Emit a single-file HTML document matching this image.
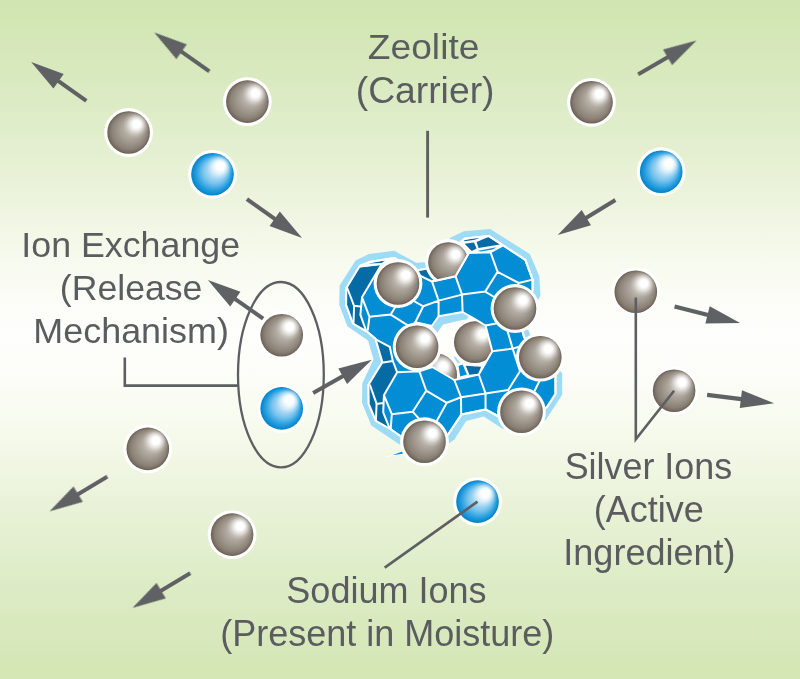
<!DOCTYPE html>
<html>
<head>
<meta charset="utf-8">
<title>Zeolite Ion Exchange</title>
<style>
html,body{margin:0;padding:0;}
body{width:800px;height:679px;overflow:hidden;background:#fdfef8;}
svg{display:block;}
text{font-family:"Liberation Sans",sans-serif;font-size:36px;fill:#5b5c5f;}
</style>
</head>
<body>
<svg width="800" height="679" viewBox="0 0 800 679">
<defs>
<linearGradient id="bg" x1="0" y1="0" x2="0" y2="1">
<stop offset="0" stop-color="#d0e5b0"/>
<stop offset="0.147" stop-color="#dcebc4"/>
<stop offset="0.265" stop-color="#e9f2d8"/>
<stop offset="0.383" stop-color="#f7faee"/>
<stop offset="0.45" stop-color="#fcfdf8"/>
<stop offset="0.5" stop-color="#fefefc"/>
<stop offset="0.55" stop-color="#fcfdf8"/>
<stop offset="0.617" stop-color="#f8fbef"/>
<stop offset="0.735" stop-color="#eaf3da"/>
<stop offset="0.853" stop-color="#deecc7"/>
<stop offset="1" stop-color="#d3e6b3"/>
</linearGradient>
<radialGradient id="ag" cx="0.5" cy="0.5" r="0.5" fx="0.66" fy="0.33">
<stop offset="0" stop-color="#dcd8d3"/>
<stop offset="0.28" stop-color="#c0bab2"/>
<stop offset="0.58" stop-color="#a39b91"/>
<stop offset="0.84" stop-color="#8b8176"/>
<stop offset="0.95" stop-color="#776c61"/>
<stop offset="1" stop-color="#675b50"/>
</radialGradient>
<radialGradient id="na" cx="0.5" cy="0.5" r="0.5" fx="0.66" fy="0.33">
<stop offset="0" stop-color="#e4f3fc"/>
<stop offset="0.30" stop-color="#bfe2f6"/>
<stop offset="0.58" stop-color="#78c3ed"/>
<stop offset="0.82" stop-color="#279ede"/>
<stop offset="0.95" stop-color="#0b8ad0"/>
<stop offset="1" stop-color="#077fc3"/>
</radialGradient>
<radialGradient id="hl" cx="0.69" cy="0.30" r="0.32">
<stop offset="0" stop-color="#fff" stop-opacity="1"/>
<stop offset="0.27" stop-color="#fff" stop-opacity="1"/>
<stop offset="0.5" stop-color="#fff" stop-opacity="0.6"/>
<stop offset="0.75" stop-color="#fff" stop-opacity="0.18"/>
<stop offset="1" stop-color="#fff" stop-opacity="0"/>
</radialGradient>
<g id="arw"><path d="M1 0L-32.5 -8.9L-32.5 8.9Z" fill="#606164"/><path d="M-32 0H-66.5" stroke="#606164" stroke-width="4.1" fill="none"/></g>

<clipPath id="cS"><polygon points="346.1,304.8 346.4,287.9 359.8,265.9 369.2,262.1 394.8,258 400,262 417,270.5 426,268.7 436,262 459.5,243 464.8,238.6 488.8,235.9 525.3,259.9 532.6,279.6 532.6,290 530,300 525,320 522.5,331.5 524.2,337.5 535,345 555.4,372 555.5,394 546.8,407.3 530,420 510,425 497.7,416 485.5,409.4 461.4,414.6 448.2,434.3 430,445 400.7,436.2 390.4,429 375.9,420.8 368.7,403.8 368.5,384.8 382.4,362.2 375.5,338.8 366.6,331.3 353,323.5"/></clipPath>
<clipPath id="cHole"><polygon points="415.3,322.3 431.8,326 438.6,316.3 462.6,312 475,319.2 485.5,325.5 492.3,351.2 478.8,374.5 454.3,380 432.3,367 419.3,371.2 405,360 403,335"/></clipPath>
<clipPath id="cB2"><polygon points="400,289.3 455.5,276.2 468.6,252.6 480,232 480,215 400,215"/></clipPath>
</defs>
<rect width="800" height="679" fill="url(#bg)"/>
<g fill="none" stroke="#5e5f62" stroke-width="2.6">
<path d="M427.6 130.8V217.6" stroke-width="2.9"/>
<path d="M124.8 357.6V385.6H238"/>
<ellipse cx="280.9" cy="374.7" rx="42.9" ry="92.7" stroke-width="2.3"/>
</g>
<g text-anchor="middle" opacity="0.999">
<text transform="translate(423.6 59) scale(1.033 1)">Zeolite</text>
<text transform="translate(425.1 103) scale(1.036 1)">(Carrier)</text>
<text transform="translate(130.7 256.8) scale(0.994 1)">Ion Exchange</text>
<text transform="translate(131.1 300) scale(0.99 1)">(Release</text>
<text transform="translate(131.1 343) scale(0.998 1)">Mechanism)</text>
<text transform="translate(648.4 479.2) scale(0.997 1)">Silver Ions</text>
<text x="648.8" y="522.2">(Active</text>
<text x="649.4" y="564.5">Ingredient)</text>
<text x="386.4" y="602.7">Sodium Ions</text>
<text x="387.2" y="646.4">(Present in Moisture)</text>
</g>
<g id="zeolite">
<polygon points="339.3,305 339.6,285.4 355.6,260.6 369,253.9 394.3,250.8 405,256.8 416.3,262.8 425.6,262.3 440,255 450.2,237.8 464,231.3 490.2,229 529.8,253.9 539.3,276.1 540.5,295 538.4,299.6 530,310 528.1,329.5 530.2,334.7 545,345 560.4,371.3 562.2,373.6 562.2,394.7 545.7,420 530,425 503,428.9 483.7,416.6 466.2,421 454.4,439.4 449.2,443.3 430,450 399.6,444.5 371.3,425.4 362,402.7 362.3,383.3 373.6,359.5 368,340.5 347.4,326.2" fill="#9edbf7"/>
<polygon points="346.1,304.8 346.4,287.9 359.8,265.9 369.2,262.1 394.8,258 400,262 417,270.5 426,268.7 436,262 459.5,243 464.8,238.6 488.8,235.9 525.3,259.9 532.6,279.6 532.6,290 530,300 525,320 522.5,331.5 524.2,337.5 535,345 555.4,372 555.5,394 546.8,407.3 530,420 510,425 497.7,416 485.5,409.4 461.4,414.6 448.2,434.3 430,445 400.7,436.2 390.4,429 375.9,420.8 368.7,403.8 368.5,384.8 382.4,362.2 375.5,338.8 366.6,331.3 353,323.5" fill="#038dd5" stroke="#fff" stroke-width="2" stroke-linejoin="round"/>
<g clip-path="url(#cS)">
<polygon points="346.4,287.9 359.8,265.9 360.4,266.6 381.8,263.9 362,297.3 360.4,314.8 365.8,330 353,323.5 346.1,304.8" fill="#046ba4"/>
<polygon points="375.5,338.8 389.8,346.8 392.8,361 382.4,362.2" fill="#046ba4"/>
<polygon points="382.4,362.2 392.8,361 397.2,372.3 383.9,395.2 383.2,412.4 389.5,428.2 375.9,420.8 368.7,403.8 368.5,384.8" fill="#046ba4"/>
<polygon points="417,270.5 426,268.7 432,281.5 421,276 416,274" fill="#046ba4"/>
<path d="M360.4 266.6L381.8 263.9M381.8 263.9L362 297.3M347.2 288L354.1 305.8M354.1 305.8L360.4 306.6M362 297.3L360.4 314.8M360.4 314.8L365.8 330M354.1 305.8L353.5 323.3M362 297.3L369.5 316.8M369.5 316.8L367.8 329.8M369.5 316.8L390.7 314.6M390.7 314.6L395 307.5M390.7 314.6L409 326.2M423.3 306.3L412 300M423.3 306.3L438.6 300.6M423.3 306.3L415.3 322.3M432 281.5L455.5 276.2M455.5 276.2L462 294.6M462 294.6L438.6 300.6M438.6 300.6L432 281.5M432 281.5L419.5 275.3M438.6 300.6L438.6 316.3M462 294.6L462.6 312M455.5 276.2L468.8 253.1M468.8 253.1L490.5 252.2M490.5 252.2L497.6 271.8M497.6 271.8L485.2 291.6M485.2 291.6L462 294.6M490.5 252.2L503.2 245.4M497.6 271.8L518.8 283M518.8 283L532.6 279.6M518.8 283L516.5 288M485.2 291.6L495 297.5M485.5 325.5L496 323.6M507.6 331.5L512.7 348.6M512.7 348.6L492.3 351.2M512.7 348.6L519 346.8M512.7 348.6L520 371.3M520 371.3L508.2 390M508.2 390L485.5 393.4M485.5 393.4L478.8 374.5M539.5 381L534.5 391M454.3 380L461 397.2M461 397.2L485.5 393.4M461 397.2L461.2 414.6M485.5 393.4L485.6 409.4M446.8 402.8L461 397.2M426.2 390.7L446.8 402.8M419.3 371.2L426.2 390.7M446.8 402.8L437.4 419.7M412.7 411.7L426.2 390.7M412.7 411.7L424.6 425M437.4 419.7L432 430M419.3 371.2L417 366M375.8 339.3L389.8 346.8M389.8 346.8L392.8 361M383.2 362.6L392.8 361M392.8 361L397.2 372.3M397.2 372.3L383.9 395.2M370.1 385.4L376.6 403.9M376.6 403.9L383 403.1M383.9 395.2L383.2 412.4M383.2 412.4L389.5 428.2M376.6 403.9L375.9 420.8M383.9 395.2L391.8 414.2M391.8 414.2L390.7 429.6M391.8 414.2L412.7 411.7M397.2 372.3L419.3 371.2" stroke="#fff" stroke-width="2" fill="none" stroke-linecap="round"/>
<polygon points="358,267 369,260 398,256 392,263 381.6,264.7 360.5,267.2" fill="#fff"/>
<polygon points="368.4,263.6 385.3,260.3 381.6,263.1" fill="#046ba4"/>
<polygon points="459,244 464.8,237 489,234 504.5,244.5 503.2,245.4 490.5,252.2 468.8,253.1 462,254" fill="#fff"/>
<polygon points="463.3,240.6 477.75,237.5 480,237.8 474.75,239.8 464.6,241.3" fill="#046ba4"/>
<polygon points="464.6,243.75 474,242.6 476.6,248.6 471.75,250.9" fill="#046ba4"/>
<polygon points="476.6,241.9 488.25,237.1 499.9,244.5 478.5,247.9" fill="#046ba4"/>
<polygon points="477.4,250.9 496.5,247.2 492.5,249.6 481,251.6" fill="#038dd5"/>
</g>
<polygon points="346.1,304.8 346.4,287.9 359.8,265.9 369.2,262.1 394.8,258 400,262 417,270.5 426,268.7 436,262 459.5,243 464.8,238.6 488.8,235.9 525.3,259.9 532.6,279.6 532.6,290 530,300 525,320 522.5,331.5 524.2,337.5 535,345 555.4,372 555.5,394 546.8,407.3 530,420 510,425 497.7,416 485.5,409.4 461.4,414.6 448.2,434.3 430,445 400.7,436.2 390.4,429 375.9,420.8 368.7,403.8 368.5,384.8 382.4,362.2 375.5,338.8 366.6,331.3 353,323.5" fill="none" stroke="#fff" stroke-width="2" stroke-linejoin="round"/>
<polygon points="415.3,322.3 431.8,326 438.6,316.3 462.6,312 475,319.2 485.5,325.5 492.3,351.2 478.8,374.5 454.3,380 432.3,367 419.3,371.2 405,360 403,335" fill="#fefefb"/>
<g clip-path="url(#cHole)">
<polygon points="431.5,326 438.6,316.3 462.6,312 468.5,316.5 467,319.4 462.2,319.9 443.1,324.6 437.5,332.5" fill="#9edbf7"/>
<polygon points="458.6,365.8 462.7,364.7 466.9,374.5 460.2,376.5" fill="#038dd5"/>
<polygon points="465.8,365.8 481,366.8 478.5,373.8 469.4,374.7" fill="#046ba4"/>
<polygon points="453.5,356.5 456,357 460.3,363.2 457.5,363.2" fill="#9edbf7"/>
<g ><circle cx="435" cy="375" r="23.5" fill="#fff"/><circle cx="435" cy="375" r="22" fill="url(#ag)"/><circle cx="435" cy="375" r="22" fill="url(#hl)"/></g>
<g ><circle cx="474.9" cy="342.2" r="24" fill="#fff"/><circle cx="474.9" cy="342.2" r="20.9" fill="url(#ag)"/><circle cx="474.9" cy="342.2" r="20.9" fill="url(#hl)"/></g>
</g>
<polygon points="415.3,322.3 431.8,326 438.6,316.3 462.6,312 475,319.2 485.5,325.5 492.3,351.2 478.8,374.5 454.3,380 432.3,367 419.3,371.2 405,360 403,335" fill="none" stroke="#fff" stroke-width="2" stroke-linejoin="round"/>
<g clip-path="url(#cB2)"><circle cx="448.2" cy="262.2" r="23.1" fill="#fff"/><circle cx="448.2" cy="262.2" r="20" fill="url(#ag)"/><circle cx="448.2" cy="262.2" r="20" fill="url(#hl)"/></g>
<path d="M432 281.5L455.5 276.2M455.5 276.2L468.8 253.1" stroke="#fff" stroke-width="2" fill="none"/>
<polygon points="384.5,457.2 402.5,450.6 403,454.6" fill="#fff"/>
<polygon points="392,455.2 402.3,451.6 402.8,453.8" fill="#038dd5"/>
<g ><circle cx="398" cy="283.5" r="24.4" fill="#fff"/><circle cx="398" cy="283.5" r="21.3" fill="url(#ag)"/><circle cx="398" cy="283.5" r="21.3" fill="url(#hl)"/></g>
<g ><circle cx="515" cy="308.5" r="24.4" fill="#fff"/><circle cx="515" cy="308.5" r="21.3" fill="url(#ag)"/><circle cx="515" cy="308.5" r="21.3" fill="url(#hl)"/></g>
<g ><circle cx="417.1" cy="346.8" r="24.4" fill="#fff"/><circle cx="417.1" cy="346.8" r="21.3" fill="url(#ag)"/><circle cx="417.1" cy="346.8" r="21.3" fill="url(#hl)"/></g>
<g ><circle cx="540.3" cy="357.2" r="24.4" fill="#fff"/><circle cx="540.3" cy="357.2" r="21.3" fill="url(#ag)"/><circle cx="540.3" cy="357.2" r="21.3" fill="url(#hl)"/></g>
<g ><circle cx="521.5" cy="411.8" r="24.4" fill="#fff"/><circle cx="521.5" cy="411.8" r="21.3" fill="url(#ag)"/><circle cx="521.5" cy="411.8" r="21.3" fill="url(#hl)"/></g>
<g ><circle cx="424.5" cy="441.7" r="24.4" fill="#fff"/><circle cx="424.5" cy="441.7" r="21.3" fill="url(#ag)"/><circle cx="424.5" cy="441.7" r="21.3" fill="url(#hl)"/></g>
</g>
<g ><circle cx="247.4" cy="101.6" r="24.4" fill="#fff"/><circle cx="247.4" cy="101.6" r="21.3" fill="url(#ag)"/><circle cx="247.4" cy="101.6" r="21.3" fill="url(#hl)"/></g>
<g ><circle cx="128.6" cy="132.5" r="24.4" fill="#fff"/><circle cx="128.6" cy="132.5" r="21.3" fill="url(#ag)"/><circle cx="128.6" cy="132.5" r="21.3" fill="url(#hl)"/></g>
<g ><circle cx="591.5" cy="102.3" r="24.4" fill="#fff"/><circle cx="591.5" cy="102.3" r="21.3" fill="url(#ag)"/><circle cx="591.5" cy="102.3" r="21.3" fill="url(#hl)"/></g>
<g ><circle cx="635.8" cy="291.8" r="24.4" fill="#fff"/><circle cx="635.8" cy="291.8" r="21.3" fill="url(#ag)"/><circle cx="635.8" cy="291.8" r="21.3" fill="url(#hl)"/></g>
<g ><circle cx="674.1" cy="390.7" r="24.4" fill="#fff"/><circle cx="674.1" cy="390.7" r="21.3" fill="url(#ag)"/><circle cx="674.1" cy="390.7" r="21.3" fill="url(#hl)"/></g>
<g ><circle cx="281.7" cy="335.2" r="24.4" fill="#fff"/><circle cx="281.7" cy="335.2" r="21.3" fill="url(#ag)"/><circle cx="281.7" cy="335.2" r="21.3" fill="url(#hl)"/></g>
<g ><circle cx="147.8" cy="448.9" r="24.4" fill="#fff"/><circle cx="147.8" cy="448.9" r="21.3" fill="url(#ag)"/><circle cx="147.8" cy="448.9" r="21.3" fill="url(#hl)"/></g>
<g ><circle cx="232.1" cy="534.6" r="24.4" fill="#fff"/><circle cx="232.1" cy="534.6" r="21.3" fill="url(#ag)"/><circle cx="232.1" cy="534.6" r="21.3" fill="url(#hl)"/></g>
<g ><circle cx="212.5" cy="174.3" r="24.4" fill="#fff"/><circle cx="212.5" cy="174.3" r="21.3" fill="url(#na)"/><circle cx="212.5" cy="174.3" r="21.3" fill="url(#hl)"/></g>
<g ><circle cx="661.2" cy="171.7" r="24.4" fill="#fff"/><circle cx="661.2" cy="171.7" r="21.3" fill="url(#na)"/><circle cx="661.2" cy="171.7" r="21.3" fill="url(#hl)"/></g>
<g ><circle cx="281.7" cy="408.4" r="24.4" fill="#fff"/><circle cx="281.7" cy="408.4" r="21.3" fill="url(#na)"/><circle cx="281.7" cy="408.4" r="21.3" fill="url(#hl)"/></g>
<g ><circle cx="477.5" cy="501.6" r="24.4" fill="#fff"/><circle cx="477.5" cy="501.6" r="21.3" fill="url(#na)"/><circle cx="477.5" cy="501.6" r="21.3" fill="url(#hl)"/></g>
<g fill="none" stroke="#5e5f62" stroke-width="2.6">
<path d="M635.8 297.5V439.3L674.1 390.7"/>
<path d="M477.5 501.6L384.7 567.6"/>
</g>
<use href="#arw" transform="translate(32 62.5) rotate(215.2)"/>
<use href="#arw" transform="translate(155 33) rotate(215.2)"/>
<use href="#arw" transform="translate(301.25 237.5) rotate(35.2)"/>
<use href="#arw" transform="translate(208.7 280.5) rotate(215)"/>
<use href="#arw" transform="translate(371 360.2) rotate(-29.5)"/>
<use href="#arw" transform="translate(558.6 234.6) rotate(148.6)"/>
<use href="#arw" transform="translate(695.7 41) rotate(-30.1)"/>
<use href="#arw" transform="translate(739.1 322.7) rotate(14)"/>
<use href="#arw" transform="translate(773.1 403.1) rotate(7.1)"/>
<use href="#arw" transform="translate(50.3 510.9) rotate(149)"/>
<use href="#arw" transform="translate(133.3 607.4) rotate(149)"/>
</svg>
</body>
</html>
